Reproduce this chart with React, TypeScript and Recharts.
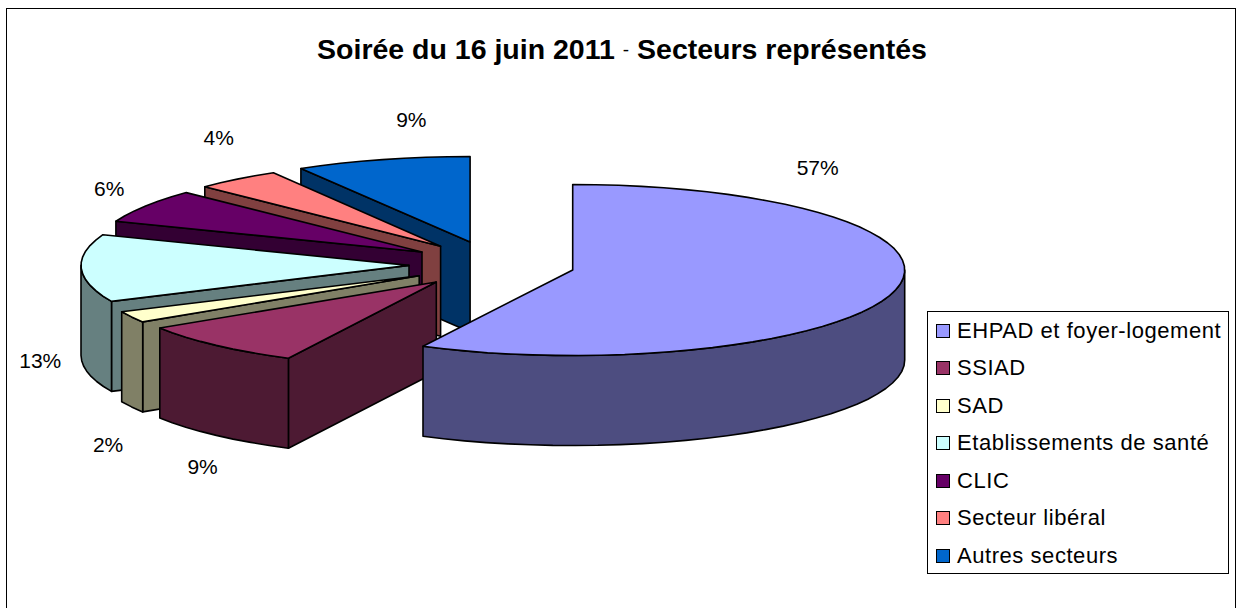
import React from "react";
import { PieChart, Pie, Cell, Legend } from "recharts";

const CATEGORIES = ["EHPAD et foyer-logement", "SSIAD", "SAD", "Etablissements de santé", "CLIC", "Secteur libéral", "Autres secteurs"];
const COUNTS = [27, 4, 1, 6, 3, 2, 4];
const COLORS = ["#9999FF", "#993366", "#FFFFCC", "#CCFFFF", "#660066", "#FF8080", "#0066CC"];
// label displacement from the point on the rim of each slice at its mid angle
const LABEL_NUDGE_X = [-78, -11, -20, -37, -33, -16, 29];
const LABEL_NUDGE_Y = [-122, 121, 128, 92, -18, -42, -40];

const FONT = "'Liberation Sans', Arial, sans-serif";
const CX = 492;
const CY = 264.6;
const RX = 332;
const RY = 85.5;
const DEPTH = 90;
const EXPLODE_X = 83;
const EXPLODE_Y = 23.4;
const LEFT_SQUEEZE = 0.988;
const rad = (d: number) => (d * Math.PI) / 180;

// Painted back to front: sweeping counter-clockwise from 12 o'clock with the list reversed
const rows = CATEGORIES.map((name, i) => ({ name, value: COUNTS[i], fill: COLORS[i], order: i })).reverse();

const shade = (hex: string) => {
  const n = parseInt(hex.slice(1), 16);
  const c = (s: number) => Math.round(((n >> s) & 255) / 2).toString(16).padStart(2, "0");
  return `#${c(16)}${c(8)}${c(0)}`;
};

const pathOf = (pts: number[][]) => "M" + pts.map((p) => `${p[0].toFixed(1)},${p[1].toFixed(1)}`).join("L") + "Z";

const Slice3D = (props: any) => {
  const { cx, cy, outerRadius, startAngle, endAngle, fill } = props;
  const sweep = Math.abs(endAngle - startAngle);
  const c1 = (((90 - Math.max(startAngle, endAngle)) % 360) + 360) % 360;
  const c2 = c1 + sweep;
  const midDeg = (c1 + c2) / 2;
  const mid = rad(midDeg);
  const ax = cx + EXPLODE_X * Math.sin(mid);
  const ay = cy - EXPLODE_Y * Math.cos(mid);
  const rx = midDeg > 180 && midDeg < 330 ? outerRadius * LEFT_SQUEEZE : outerRadius;
  const pt = (a: number, dz = 0) => [ax + rx * Math.sin(rad(a)), ay - RY * Math.cos(rad(a)) + dz];
  const arc = (from: number, to: number, dz = 0) => {
    const n = Math.max(2, Math.ceil((to - from) / 4));
    return Array.from({ length: n + 1 }, (_, i) => pt(from + ((to - from) * i) / n, dz));
  };
  const side = shade(fill);
  const style = { stroke: "#000", strokeWidth: 1.6, strokeLinejoin: "round" as const };
  const wall = (a: number) => pathOf([[ax, ay], pt(a), pt(a, DEPTH), [ax, ay + DEPTH]]);
  const f1 = Math.max(c1, 90);
  const f2 = Math.min(c2, 270);
  return (
    <g>
      {Math.sin(rad(c1)) < -0.001 && <path d={wall(c1)} fill={side} {...style} />}
      {Math.sin(rad(c2)) > 0.001 && <path d={wall(c2)} fill={side} {...style} />}
      {f2 > f1 && <path d={pathOf([...arc(f1, f2), ...arc(f1, f2, DEPTH).reverse()])} fill={side} {...style} />}
      <path d={pathOf([[ax, ay], ...arc(c1, c2)])} fill={fill} {...style} />
    </g>
  );
};

const renderLabel = (props: any) => {
  const { cx, cy, outerRadius, midAngle, percent, payload, name } = props;
  const order = CATEGORIES.indexOf(name ?? payload?.name);
  const m = rad(90 - midAngle);
  const x = cx + EXPLODE_X * Math.sin(m) + outerRadius * Math.sin(m) + LABEL_NUDGE_X[order];
  const y = cy - EXPLODE_Y * Math.cos(m) - RY * Math.cos(m) + LABEL_NUDGE_Y[order];
  return (
    <text x={x} y={y} textAnchor="middle" dominantBaseline="central" fontFamily={FONT} fontSize={21} fill="#000">
      {`${Math.round(percent * 100)}%`}
    </text>
  );
};

const renderLegend = (props: any) => {
  const items = [...(props.payload ?? [])].sort((a: any, b: any) => CATEGORIES.indexOf(a.value) - CATEGORIES.indexOf(b.value));
  return (
    <div style={{ boxSizing: "border-box", width: 302, height: 263, border: "1.2px solid #000", background: "#fff" }}>
      {items.map((it: any) => (
        <div key={it.value} style={{ display: "flex", alignItems: "center", height: 37.5, fontFamily: FONT, fontSize: 22, letterSpacing: 0.55, color: "#000", whiteSpace: "nowrap" }}>
          <span style={{ boxSizing: "border-box", display: "inline-block", width: 14, height: 14, border: "1.6px solid #000", background: it.color, marginLeft: 8, marginRight: 7 }} />
          {it.value}
        </div>
      ))}
    </div>
  );
};

export default function App() {
  return (
    <div style={{ position: "absolute", left: 0, top: 0, width: 1237, height: 608, overflow: "hidden", background: "#fff" }}>
      <div style={{ position: "absolute", left: 6, top: 8, width: 1228, height: 640, border: "1.7px solid #000" }} />
      <div style={{ position: "absolute", left: 0, top: 0 }}>
        <PieChart width={1237} height={608} margin={{ top: 0, right: 0, bottom: 0, left: 0 }}>
          <text x={622} y={49} textAnchor="middle" dominantBaseline="central" fontFamily={FONT} fontSize={28.5} fontWeight="bold" fill="#000">
            Soirée du 16 juin 2011 <tspan fontSize={19} fontWeight="normal">-</tspan> Secteurs représentés
          </text>
          <Pie
            data={rows}
            dataKey="value"
            nameKey="name"
            cx={CX}
            cy={CY}
            outerRadius={RX}
            startAngle={90}
            endAngle={450}
            shape={Slice3D}
            label={renderLabel}
            labelLine={false}
            isAnimationActive={false}
          >
            {rows.map((r) => (
              <Cell key={r.name} fill={r.fill} />
            ))}
          </Pie>
          <Legend content={renderLegend} wrapperStyle={{ position: "absolute", left: 927, top: 311, width: 302, height: 263, bottom: "auto" }} />
        </PieChart>
      </div>
    </div>
  );
}
